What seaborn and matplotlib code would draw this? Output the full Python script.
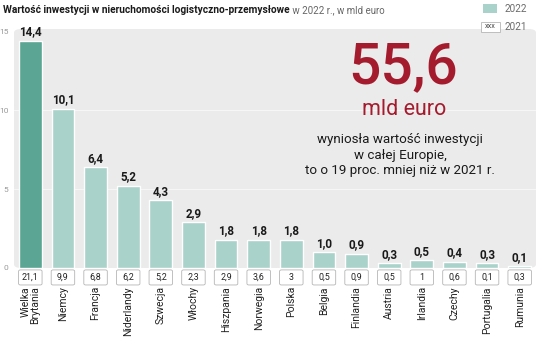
import matplotlib
matplotlib.use("Agg")
import matplotlib.pyplot as plt
from matplotlib.patches import FancyBboxPatch
import seaborn as sns
import pandas as pd

countries = ["Wielka\nBrytania", "Niemcy", "Francja", "Niderlandy", "Szwecja", "Włochy",
             "Hiszpania", "Norwegia", "Polska", "Belgia", "Finlandia", "Austria",
             "Irlandia", "Czechy", "Portugalia", "Rumunia"]
values_2022 = [14.4, 10.1, 6.4, 5.2, 4.3, 2.9, 1.8, 1.8, 1.8, 1.0, 0.9, 0.3, 0.5, 0.4, 0.3, 0.1]
values_2021 = [21.1, 9.9, 6.8, 6.2, 5.2, 2.3, 2.9, 3.6, 3, 0.5, 0.9, 0.5, 1, 0.6, 0.1, 0.3]
y_ticks = [0, 5, 10, 15]

total_eu = "55,6"

LIGHT = "#a9d3ca"
DARK = "#5aa593"
RED = "#a51b2e"
BG = "#ebebeb"

sns.set_theme(style="white")
plt.rcParams["font.family"] = ["Roboto", "DejaVu Sans"]

df = pd.DataFrame({"kraj": countries, "wartosc": values_2022})
palette = [DARK] + [LIGHT] * (len(countries) - 1)

fig = plt.figure(figsize=(5.36, 3.37), dpi=100)
W, H = 536, 337
ax = fig.add_axes([14 / W, (H - 268) / H, (W - 14) / W, (268 - 29) / H])

sns.barplot(data=df, x="kraj", y="wartosc", hue="kraj", palette=palette,
            width=0.7, legend=False, ax=ax, zorder=3, saturation=1)

ax.set_ylim(0, 15.15)
ax.set_xlim(-0.5, len(countries) - 0.5)
ax.set_xlabel("")
ax.set_ylabel("")
for s in ax.spines.values():
    s.set_visible(False)

# rounded grey panel behind the bars
ax.patch.set_visible(False)
panel = FancyBboxPatch((0, 0), 1, 1, boxstyle="round,pad=0,rounding_size=0.015",
                       transform=ax.transAxes, facecolor=BG, edgecolor="none",
                       zorder=0, clip_on=False, mutation_aspect=1.0)
ax.add_patch(panel)

ax.set_yticks(y_ticks)
ax.set_yticklabels([str(t) for t in y_ticks])
ax.tick_params(axis="y", length=0, pad=4, labelsize=6, labelcolor="#9a9a9a")
for t in y_ticks[1:3]:
    ax.axhline(t, color="#f6f6f6", lw=0.8, zorder=1)

ax.set_xticks(range(len(countries)))
ax.set_xticklabels(countries, rotation=90, va="top", ha="center",
                   multialignment="right", fontsize=7.5, color="#222222",
                   linespacing=0.95)
ax.tick_params(axis="x", length=0, pad=13)

# values of 2022 above bars
for i, v in enumerate(values_2022):
    ax.text(i, v + 0.15, f"{v:.1f}".replace(".", ","), ha="center", va="bottom",
            fontsize=8.4, fontweight="bold", color="#1a1a1a", zorder=4)

# boxes with 2021 values below the axis
trans = ax.get_xaxis_transform()
for i, v in enumerate(values_2021):
    box = FancyBboxPatch((i - 0.36, -0.071), 0.72, 0.063,
                         boxstyle="round,pad=0,rounding_size=0.06",
                         transform=trans, facecolor="white", edgecolor="#b5b5b5",
                         lw=0.6, clip_on=False, zorder=3, mutation_aspect=0.1)
    ax.add_patch(box)
    ax.text(i, -0.040, f"{v:g}".replace(".", ","), transform=trans, ha="center",
            va="center", fontsize=6.4, color="#222222", zorder=4)

# title
t1 = fig.text(3 / W, 1 - 10 / H, "Wartość inwestycji w nieruchomości logistyczno-przemysłowe",
              fontsize=7.3, fontweight="bold", color="#1a1a1a", va="center", ha="left")
ax.annotate(" w 2022 r., w mld euro", xy=(1, 0.5), xycoords=t1, va="center", ha="left",
            fontsize=7.0, fontweight="normal", color="#666666", annotation_clip=False)

# legend
fig.patches.append(FancyBboxPatch((483 / W, 1 - 13 / H), 14 / W, 9 / H,
                                  boxstyle="square,pad=0", transform=fig.transFigure,
                                  facecolor=LIGHT, edgecolor="none"))
fig.text(505 / W, 1 - 8.5 / H, "2022", fontsize=7.2, color="#6b6b6b", va="center")
fig.patches.append(FancyBboxPatch((481 / W, 1 - 32 / H), 19 / W, 10 / H,
                                  boxstyle="square,pad=0", transform=fig.transFigure,
                                  facecolor="white", edgecolor="#b5b5b5", lw=0.6))
fig.text(490.5 / W, 1 - 27 / H, "xxx", fontsize=5.2, color="#444444", va="center", ha="center")
fig.text(505 / W, 1 - 27 / H, "2021", fontsize=7.2, color="#6b6b6b", va="center")

# headline figure
fig.text(403 / W, 1 - 68 / H, total_eu, fontsize=41, fontweight="medium", color=RED,
         ha="center", va="center")
fig.text(404 / W, 1 - 110 / H, "mld euro", fontsize=15.5, fontweight="normal", color=RED,
         ha="center", va="center")
fig.text(400 / W, 1 - 155 / H,
         "wyniosła wartość inwestycji\nw całej Europie,\nto o 19 proc. mniej niż w 2021 r.",
         fontsize=9.6, color="#1a1a1a", ha="center", va="center", linespacing=1.27)

fig.savefig("out.png", dpi=100)
